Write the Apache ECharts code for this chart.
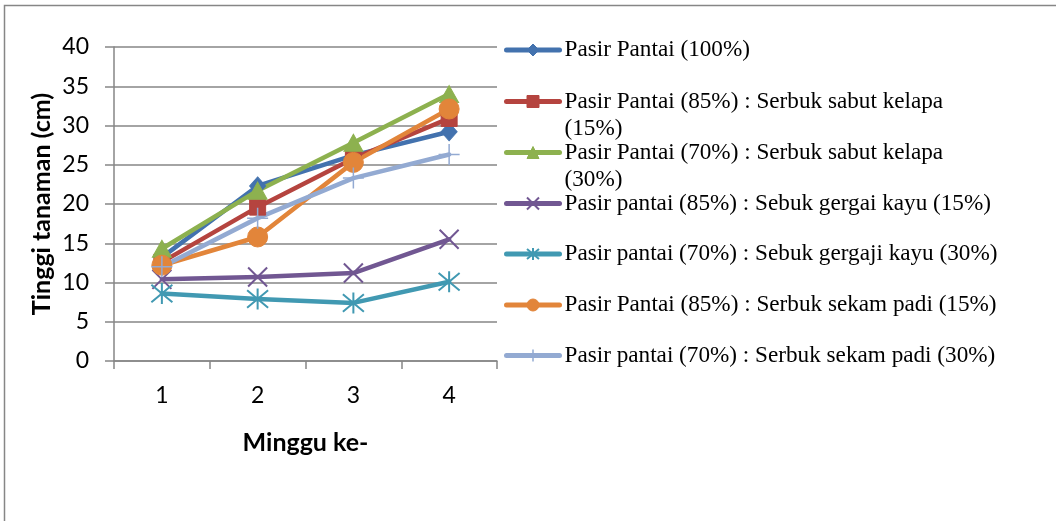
<!DOCTYPE html>
<html>
<head>
<meta charset="utf-8">
<script src="https://cdn.jsdelivr.net/npm/echarts@6/dist/echarts.min.js"></script>
<style>
html,body{margin:0;padding:0;background:#ffffff;}
#chart{width:1056px;height:521px;}
</style>
</head>
<body>
<div id="chart"></div>
<script>
// ---- data ----
const weeks = ['1', '2', '3', '4'];
const seriesNames = [
  'Pasir Pantai (100%)',
  'Pasir Pantai (85%) : Serbuk sabut kelapa (15%)',
  'Pasir Pantai (70%) : Serbuk sabut kelapa (30%)',
  'Pasir pantai (85%) : Sebuk gergai kayu (15%)',
  'Pasir pantai (70%) : Sebuk gergaji kayu (30%)',
  'Pasir Pantai (85%) : Serbuk sekam padi (15%)',
  'Pasir pantai (70%) : Serbuk sekam padi (30%)'
];
const pasir100   = [13.2, 22.3, 26.2, 29.2];
const sabut15    = [12.6, 19.6, 25.8, 30.9];
const sabut30    = [14.3, 21.7, 27.8, 34.0];
const gergaji15  = [10.4, 10.7, 11.2, 15.5];
const gergaji30  = [8.6, 7.9, 7.4, 10.1];
const sekam15    = [12.2, 15.8, 25.3, 32.1];
const sekam30    = [12.0, 18.2, 23.3, 26.3];
const seriesValues = [pasir100, sabut15, sabut30, gergaji15, gergaji30, sekam15, sekam30];
const yMin = 0, yMax = 40, yStep = 5;
const xTitle = 'Minggu ke-';
const yTitle = 'Tinggi tanaman (cm)';

// ---- styles ----
const colors = ['#4372AE', '#B5443F', '#8DB14F', '#715792', '#4199B2', '#E2853A', '#93AAD2'];
const symbols = [
  'diamond', 'rect', 'triangle',
  'path://M0,0L20,20M20,0L0,20',
  'path://M0,0L20,20M20,0L0,20M10,-2L10,22',
  'circle',
  'path://M10,0L10,20M0,10L20,10'
];
const symbolSizes = [[16, 18], 16, [19, 17], 19, 21, 20, 21];
const borderW = [1, 1, 1, 2, 2, 1, 1.5];
const wrapAt = {1: 'kelapa ', 2: 'kelapa '};
const legendCenters = [50, 101.5, 152.5, 203.5, 254, 305, 355.5];

const axisColor = '#868686';
const sansFont = 'Lato';
const serifFont = 'Liberation Serif';
const legendLH = 27;

const chart = echarts.init(document.getElementById('chart'), null, {renderer: 'canvas'});

const series = seriesNames.map((name, i) => ({
  name: name,
  type: 'line',
  data: seriesValues[i],
  symbol: symbols[i],
  symbolSize: symbolSizes[i],
  showAllSymbol: true,
  lineStyle: {color: colors[i], width: 4.5, join: 'round', cap: 'round'},
  itemStyle: {color: colors[i], borderColor: colors[i], borderWidth: borderW[i]},
  emphasis: {disabled: true},
  animation: false
}));

const legends = seriesNames.map((name, i) => {
  const wrapped = wrapAt[i] !== undefined;
  const boxH = wrapped ? legendLH * 3 : legendLH;
  return {
    data: [name],
    left: 504,
    top: legendCenters[i] - boxH / 2,
    orient: 'vertical',
    padding: 0,
    itemGap: 0,
    itemWidth: 53,
    itemHeight: 15,
    selectedMode: false,
    lineStyle: {color: colors[i], width: 5, cap: 'round'},
    itemStyle: {color: colors[i], borderColor: colors[i], borderWidth: borderW[i]},
    formatter: function (n) {
      if (wrapped) {
        const k = n.indexOf(wrapAt[i]) + wrapAt[i].length;
        return '\n' + n.slice(0, k).trim() + '\n' + n.slice(k);
      }
      return n;
    },
    textStyle: {fontFamily: serifFont, fontSize: 23.2, color: '#000', lineHeight: legendLH}
  };
});

const option = {
  animation: false,
  backgroundColor: '#ffffff',
  color: colors,
  graphic: [{
    type: 'rect',
    silent: true,
    z: -10,
    shape: {x: 4.5, y: 5.5, width: 1200, height: 700},
    style: {fill: 'none', stroke: axisColor, lineWidth: 1.5}
  }],
  grid: {left: 114, right: 559, top: 47, bottom: 160, containLabel: false},
  legend: legends,
  xAxis: {
    type: 'category',
    data: weeks,
    boundaryGap: true,
    name: xTitle,
    nameLocation: 'middle',
    nameGap: 69,
    nameTextStyle: {fontFamily: sansFont, fontSize: 25, fontWeight: 'bold', color: '#000'},
    axisLine: {show: true, lineStyle: {color: axisColor, width: 1.5}},
    axisTick: {show: true, inside: false, length: 8, alignWithLabel: false, lineStyle: {color: axisColor, width: 1.5}},
    axisLabel: {fontFamily: sansFont, fontSize: 23, color: '#000', margin: 23},
    splitLine: {show: false}
  },
  yAxis: {
    type: 'value',
    min: yMin,
    max: yMax,
    interval: yStep,
    name: yTitle,
    nameLocation: 'middle',
    nameGap: 60,
    nameRotate: 90,
    nameTextStyle: {fontFamily: sansFont, fontSize: 25, fontWeight: 'bold', color: '#000'},
    axisLine: {show: true, lineStyle: {color: axisColor, width: 1.5}},
    axisTick: {show: true, inside: false, length: 9, lineStyle: {color: axisColor, width: 1.5}},
    axisLabel: {fontFamily: sansFont, fontSize: 23, color: '#000', margin: 25},
    splitLine: {show: true, lineStyle: {color: axisColor, width: 1.5}}
  },
  series: series
};

chart.setOption(option);
</script>
</body>
</html>
